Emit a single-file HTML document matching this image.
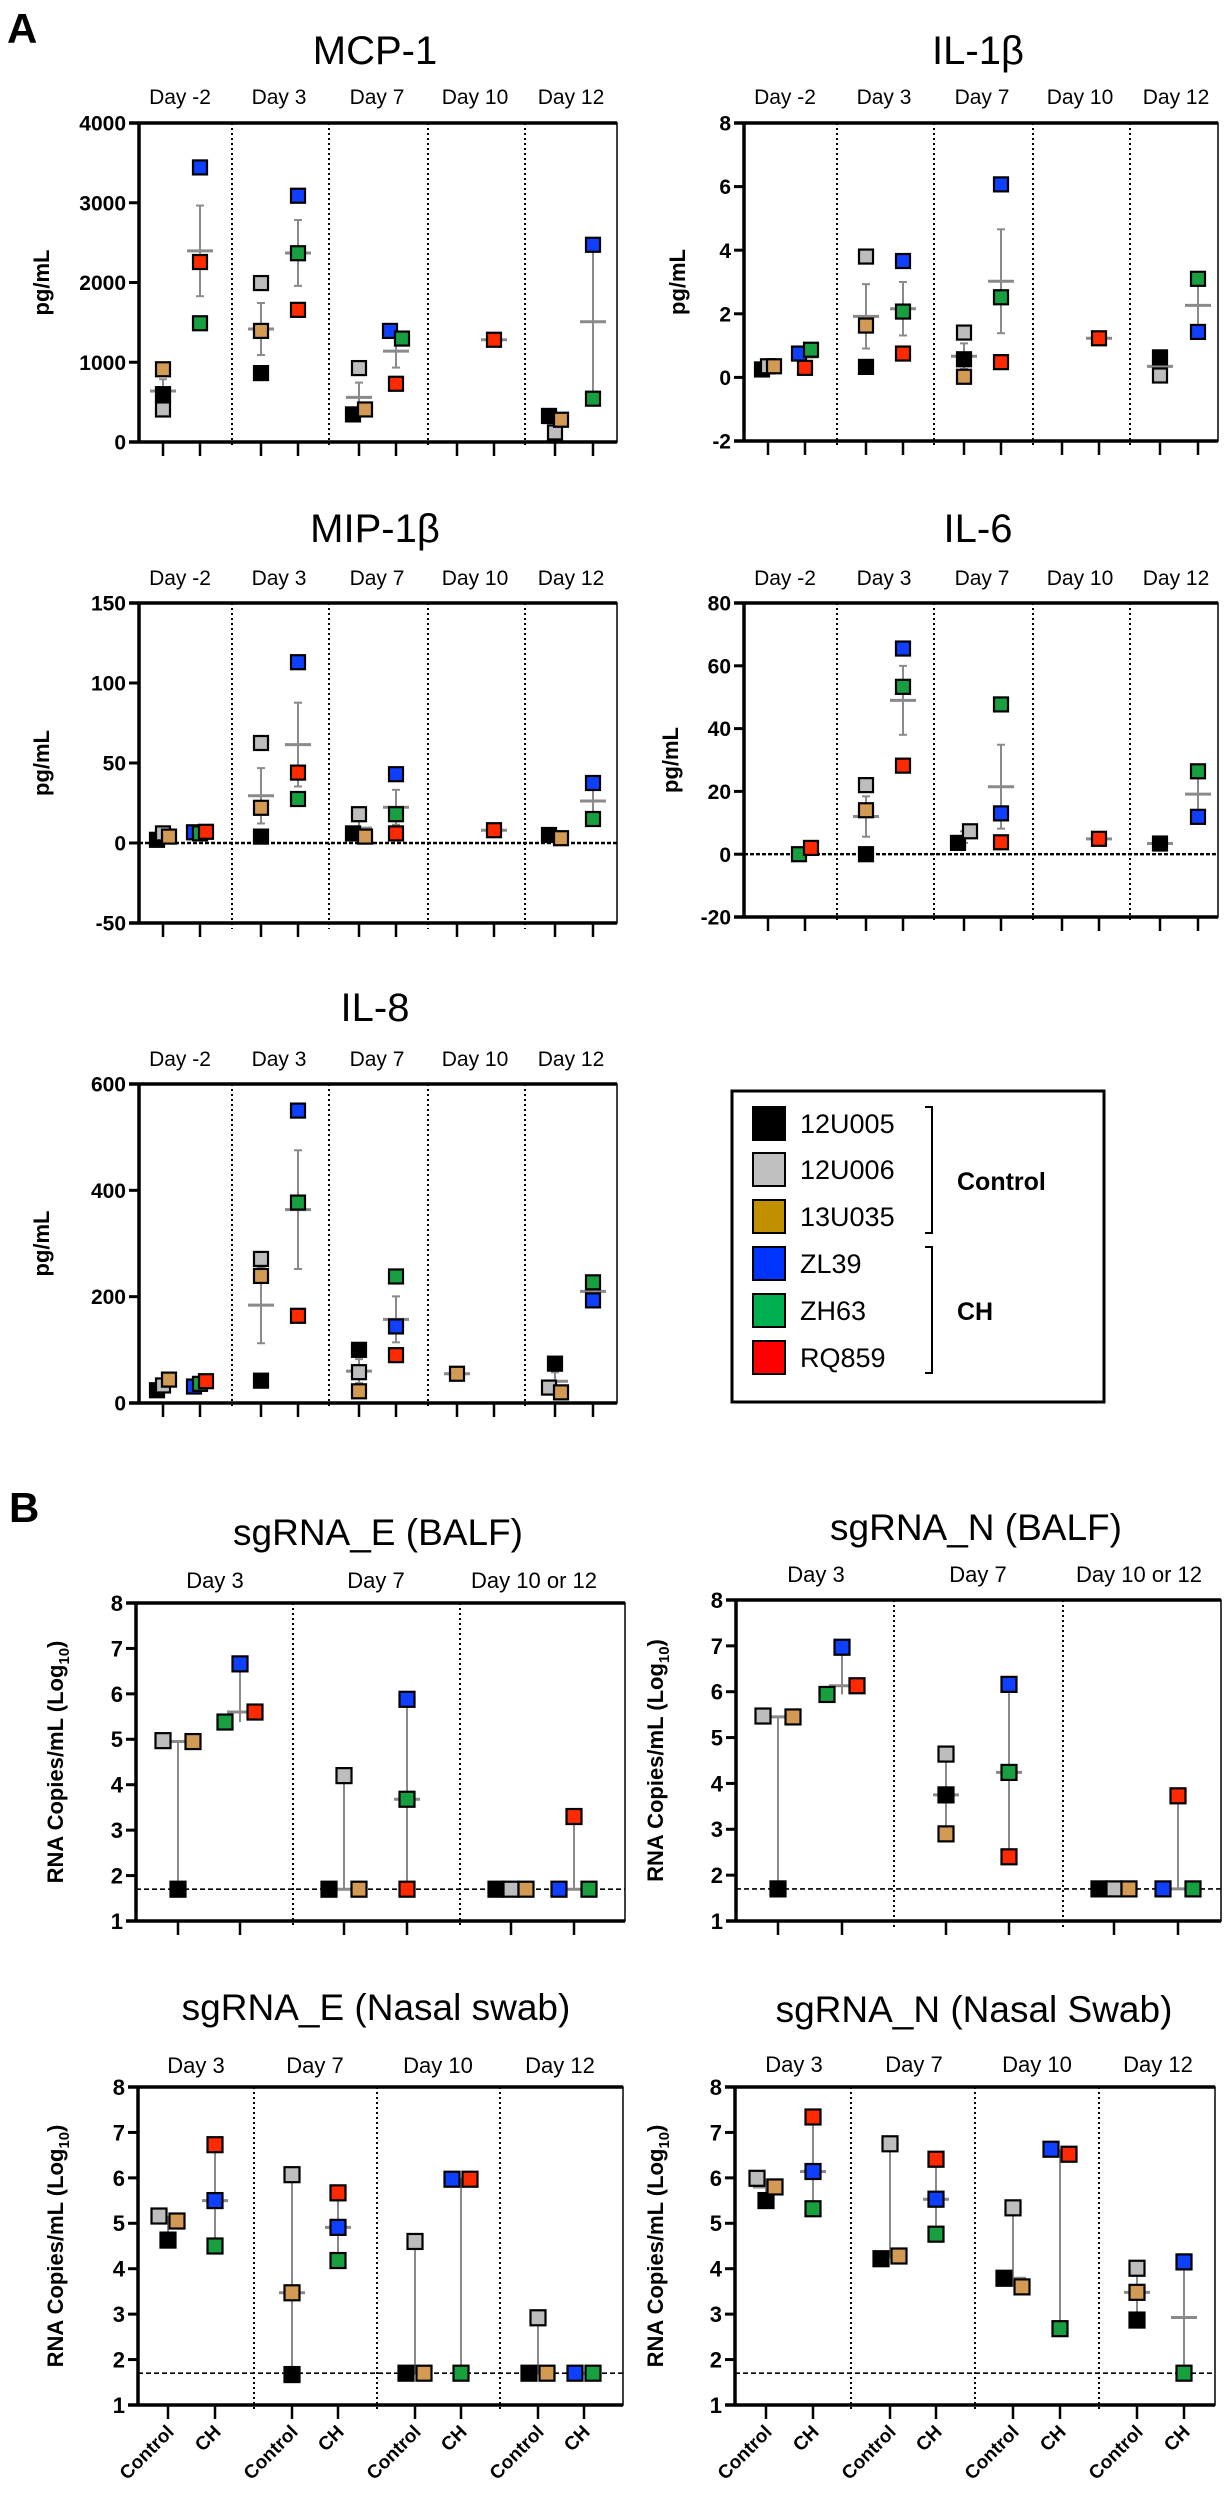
<!DOCTYPE html>
<html><head><meta charset="utf-8"><style>
html,body{margin:0;padding:0;background:#fff;}
svg{display:block;font-family:"Liberation Sans",Arial,sans-serif;}
</style></head><body>
<svg id="fig" xmlns="http://www.w3.org/2000/svg" width="1228" height="2500" viewBox="0 0 1228 2500">
<text x="7" y="43" font-size="42" font-weight="bold">A</text>
<text x="9" y="1522" font-size="42" font-weight="bold">B</text>
<g>
<rect x="732" y="1091" width="372" height="311" fill="none" stroke="#000" stroke-width="3"/>
<rect x="753" y="1107" width="32" height="33" fill="#000" stroke="#000" stroke-width="2"/>
<rect x="753" y="1153" width="32" height="33" fill="#c0c0c0" stroke="#000" stroke-width="2"/>
<rect x="753" y="1200" width="32" height="33" fill="#c09000" stroke="#000" stroke-width="2"/>
<rect x="753" y="1247" width="32" height="33" fill="#0033ff" stroke="#000" stroke-width="2"/>
<rect x="753" y="1294" width="32" height="33" fill="#00b050" stroke="#000" stroke-width="2"/>
<rect x="753" y="1341" width="32" height="33" fill="#ff0000" stroke="#000" stroke-width="2"/>
<g font-size="27">
<text x="800" y="1133">12U005</text>
<text x="800" y="1179">12U006</text>
<text x="800" y="1226">13U035</text>
<text x="800" y="1273">ZL39</text>
<text x="800" y="1320">ZH63</text>
<text x="800" y="1367">RQ859</text>
</g>
<path d="M925 1107 H932 V1233 H925" fill="none" stroke="#000" stroke-width="2"/>
<path d="M925 1247 H932 V1373 H925" fill="none" stroke="#000" stroke-width="2"/>
<text x="957" y="1190" font-size="25" font-weight="bold">Control</text>
<text x="957" y="1320" font-size="25" font-weight="bold">CH</text>
</g>
</svg>
<script>
// ---- data (subject order: 12U005, 12U006, 13U035, ZL39, ZH63, RQ859) ----
const subjects = ["12U005","12U006","13U035","ZL39","ZH63","RQ859"];
const cytoDays = ["Day -2","Day 3","Day 7","Day 10","Day 12"];
const balfDays = ["Day 3","Day 7","Day 10 or 12"];
const nasalDays = ["Day 3","Day 7","Day 10","Day 12"];
const groupLabels = ["Control","CH"];

const mcpBlack=[600,864,346,null,327], mcpGray=[408,1993,927,null,120], mcpGold=[912,1393,408,null,279];
const mcpBlue=[3443,3088,1393,null,2473], mcpGreen=[1489,2367,1297,null,543], mcpRed=[2257,1657,730,1282,null];
const mcpTicks=[0,1000,2000,3000,4000];

const il1bBlack=[0.25,0.33,0.57,null,0.63], il1bGray=[0.35,3.8,1.41,null,0.06], il1bGold=[0.35,1.63,0.02,null,null];
const il1bBlue=[0.75,3.66,6.07,null,1.43], il1bGreen=[0.87,2.07,2.52,null,3.1], il1bRed=[0.3,0.75,0.48,1.23,null];
const il1bTicks=[-2,0,2,4,6,8];

const mipBlack=[2,4,6,null,5], mipGray=[6,62.5,18,null,null], mipGold=[4,22,4,null,3];
const mipBlue=[6.7,113,43,null,37.5], mipGreen=[6,27.5,18,null,15], mipRed=[7,44,6,8,null];
const mipTicks=[-50,0,50,100,150];

const il6Black=[null,0,3.6,null,3.4], il6Gray=[null,22,7.3,null,null], il6Gold=[null,14,null,null,null];
const il6Blue=[null,65.5,13,null,11.9], il6Green=[0,53.3,47.7,null,26.4], il6Red=[2,28.2,3.8,4.9,null];
const il6Ticks=[-20,0,20,40,60,80];

const il8Black=[24,42,100,null,74], il8Gray=[33,271,58,null,29], il8Gold=[44,239,22,55,20];
const il8Blue=[31,550,144,null,193], il8Green=[36,377,238,null,227], il8Red=[41,164,90,null,null];
const il8Ticks=[0,200,400,600];

const ebBlack=[1.7,1.7,1.7], ebGray=[4.97,4.2,1.7], ebGold=[4.95,1.7,1.7];
const ebBlue=[6.66,5.88,1.7], ebGreen=[5.38,3.68,1.7], ebRed=[5.6,1.7,3.3];
const nbBlack=[1.7,3.75,1.7], nbGray=[5.47,4.64,1.7], nbGold=[5.45,2.9,1.7];
const nbBlue=[6.97,6.16,1.7], nbGreen=[5.94,4.24,1.7], nbRed=[6.13,2.4,3.73];
const enBlack=[4.63,1.67,1.7,1.7], enGray=[5.16,6.07,4.6,2.92], enGold=[5.05,3.47,1.7,1.7];
const enBlue=[5.5,4.91,5.97,1.7], enGreen=[4.5,4.18,1.7,1.7], enRed=[6.73,5.67,5.97,null];
const nnBlack=[5.5,4.22,3.79,2.87], nnGray=[5.99,6.75,5.34,4.01], nnGold=[5.8,4.28,3.6,3.48];
const nnBlue=[6.14,5.53,6.63,4.15], nnGreen=[5.32,4.76,2.68,1.7], nnRed=[7.34,6.41,6.52,null];
const logTicks=[1,2,3,4,5,6,7,8];
const lodValue=1.7;

const fillColors=["#000000","#bdbdbd","#d29a52","#1040ff","#18a040","#ff2a00"];
const NS="http://www.w3.org/2000/svg";
const svg=document.getElementById('fig');
function mk(tag,attrs,parent){const e=document.createElementNS(NS,tag);for(const k in attrs)e.setAttribute(k,attrs[k]);(parent||svg).appendChild(e);return e;}

function panel(cfg){
  const g=mk('g',{});
  
  
  const ymin=cfg.ticks[0], ymax=cfg.ticks[cfg.ticks.length-1];
  const y=v=>cfg.bottom-(v-ymin)/(ymax-ymin)*(cfg.bottom-cfg.top);
  // title
  const t=mk('text',{x:cfg.titleX,y:cfg.titleY,'font-size':cfg.titleSize,'text-anchor':'middle'},g);
  t.textContent=cfg.title;
  
  
  // day labels
  cfg.days.forEach((d,i)=>{
    const dl=mk('text',{x:cfg.dayX[i],y:cfg.dayY,'font-size':cfg.daySize,'text-anchor':'middle'},g);
    dl.textContent=d;
    
    
  });
  // frame
  const fr=mk('rect',{x:cfg.left,y:cfg.top,width:cfg.right-cfg.left,height:cfg.bottom-cfg.top,fill:'none',stroke:'#000','stroke-width':1.5},g);
  
  
  const ax=mk('path',{d:`M${cfg.left-10} ${cfg.top} H${cfg.right} M${cfg.left} ${cfg.top} V${cfg.bottom} M${cfg.left-10} ${cfg.bottom} H${cfg.right}`,fill:'none',stroke:'#000','stroke-width':3.5},g);
  
  
  // y ticks
  cfg.ticks.forEach(v=>{
    mk('line',{x1:cfg.left-10,x2:cfg.left,y1:y(v),y2:y(v),stroke:'#000','stroke-width':3},g);
    const tl=mk('text',{x:cfg.left-13,y:y(v)+cfg.tickSize*0.36,'font-size':cfg.tickSize,'font-weight':'bold','text-anchor':'end'},g);
    tl.textContent=v;
    
    
  });
  // y label
  const yl=mk('text',{x:0,y:0,'font-size':cfg.ylabSize,'font-weight':'bold','text-anchor':'middle',transform:`translate(${cfg.ylabX},${(cfg.top+cfg.bottom)/2}) rotate(-90)`},g);
  if(cfg.log){yl.innerHTML='RNA Copies/mL (Log<tspan font-size="15" dy="6">10</tspan><tspan dy="-6">)</tspan>';}
  else yl.textContent='pg/mL';
  
  
  // dividers
  cfg.dividers.forEach(xd=>{
    const dv=mk('line',{x1:xd,x2:xd,y1:cfg.top,y2:cfg.bottom+6,stroke:'#000','stroke-width':2,'stroke-dasharray':'2 3'},g);
    
    
  });
  // reference dashed line
  if(cfg.refLine!==undefined){
    const rl=mk('line',{x1:cfg.left,x2:cfg.right,y1:y(cfg.refLine),y2:y(cfg.refLine),stroke:'#000','stroke-width':cfg.log?1.6:2.4,'stroke-dasharray':cfg.log?'5 3':'4 2'},g);
    
    
  }
  // x ticks and group labels
  cfg.xt.forEach((xx,i)=>{
    mk('line',{x1:xx,x2:xx,y1:cfg.bottom,y2:cfg.bottom+14,stroke:'#000','stroke-width':2.5},g);
    if(cfg.groupLabels){
      const gl=mk('text',{x:0,y:0,'font-size':19,'font-weight':'bold','text-anchor':'end',transform:`translate(${xx+7},${cfg.bottom+28}) rotate(-45)`},g);
      gl.textContent=groupLabels[i%2];
      
      
    }
  });
  // data
  const ctrl=[cfg.series[0],cfg.series[1],cfg.series[2]];
  const ch=[cfg.series[3],cfg.series[4],cfg.series[5]];
  cfg.days.forEach((d,di)=>{
    [ctrl,ch].forEach((grp,gi)=>{
      const xx=cfg.xt[di*2+gi];
      const pts=[];
      grp.forEach((s,si)=>{const v=s[di];if(v!==null&&v!==undefined)pts.push({v,si:gi*3+si});});
      if(!pts.length)return;
      const vals=pts.map(p=>p.v);
      let c,lo,hi;
      if(cfg.log){
        const s=[...vals].sort((a,b)=>a-b);const n=s.length;
        c=n%2?s[(n-1)/2]:(s[n/2-1]+s[n/2])/2;lo=s[0];hi=s[n-1];
      }else{
        const n=vals.length;c=vals.reduce((a,b)=>a+b,0)/n;
        let sem=0;if(n>1){const sd=Math.sqrt(vals.reduce((a,b)=>a+(b-c)*(b-c),0)/(n-1));sem=sd/Math.sqrt(n);}
        lo=c-sem;hi=c+sem;
      }
      const sg=mk('g',{},g);
      
      
      mk('line',{x1:xx,x2:xx,y1:y(lo),y2:y(hi),stroke:'#8a8a8a','stroke-width':2},sg);
      mk('line',{x1:xx-13,x2:xx+13,y1:y(c),y2:y(c),stroke:'#8a8a8a','stroke-width':3},sg);
      if(!cfg.log){
        mk('line',{x1:xx-4,x2:xx+4,y1:y(lo),y2:y(lo),stroke:'#8a8a8a','stroke-width':2},sg);
        mk('line',{x1:xx-4,x2:xx+4,y1:y(hi),y2:y(hi),stroke:'#8a8a8a','stroke-width':2},sg);
      }
      // collision-based horizontal spread
      const used=new Array(pts.length).fill(false);
      pts.forEach((p,i)=>{p.dx=0;});
      for(let i=0;i<pts.length;i++){
        if(used[i])continue;
        const cl=[i];
        for(let j=i+1;j<pts.length;j++){if(!used[j]&&Math.abs(y(pts[j].v)-y(pts[i].v))<13)cl.push(j);}
        cl.forEach(k=>used[k]=true);
        const n=cl.length;
        cl.forEach((k,idx)=>{pts[k].dx=n===2?(idx===0?-cfg.sp:cfg.sp):(idx-(n-1)/2)*cfg.sp;});
      }
      pts.forEach(p=>{
        const m=cfg.ms;
        const r=mk('rect',{x:xx+p.dx-m/2,y:y(p.v)-m/2,width:m,height:m,fill:fillColors[p.si],stroke:'#000','stroke-width':2.2},g);
        
        
      });
    });
  });
}

function cytoX(left){return {
  dividers:[left+93,left+190,left+289,left+386],
  xt:[left+24,left+61,left+122,left+159,left+220,left+257,left+318,left+355,left+416,left+454],
  dayX:[left+41,left+140,left+238,left+336,left+432]};}

const cyto=[
 {name:'mcp-1',title:'MCP-1',left:139,right:617,top:123,bottom:442,titleY:64,dayY:104,ticks:mcpTicks,series:[mcpBlack,mcpGray,mcpGold,mcpBlue,mcpGreen,mcpRed],ylabX:49},
 {name:'il-1b',title:'IL-1β',left:744,right:1218,top:123,bottom:441,titleY:64,dayY:104,ticks:il1bTicks,series:[il1bBlack,il1bGray,il1bGold,il1bBlue,il1bGreen,il1bRed],ylabX:685},
 {name:'mip-1b',title:'MIP-1β',left:139,right:617,top:603,bottom:923,titleY:542,dayY:585,ticks:mipTicks,series:[mipBlack,mipGray,mipGold,mipBlue,mipGreen,mipRed],ylabX:49,refLine:0},
 {name:'il-6',title:'IL-6',left:744,right:1218,top:603,bottom:917,titleY:542,dayY:585,ticks:il6Ticks,series:[il6Black,il6Gray,il6Gold,il6Blue,il6Green,il6Red],ylabX:678,refLine:0},
 {name:'il-8',title:'IL-8',left:139,right:617,top:1084,bottom:1403,titleY:1021,dayY:1066,ticks:il8Ticks,series:[il8Black,il8Gray,il8Gold,il8Blue,il8Green,il8Red],ylabX:49}
];
cyto.forEach(c=>{
  const xs=cytoX(c.left);
  panel(Object.assign({days:cytoDays,titleX:(c.left+c.right)/2-3,titleSize:40,daySize:21,tickSize:21,ylabSize:22,ms:14,sp:6,log:false},xs,c));
});

panel({name:'sgrna-e-balf',title:'sgRNA_E (BALF)',left:136,right:625,top:1603,bottom:1921,titleX:378,titleY:1545,titleSize:37,
  days:balfDays,dayX:[215,376,534],dayY:1588,daySize:22,ticks:logTicks,tickSize:22,ylabSize:22,ylabX:63,
  dividers:[293,460],xt:[178,240,344,407,511,574],series:[ebBlack,ebGray,ebGold,ebBlue,ebGreen,ebRed],log:true,refLine:lodValue,ms:15,sp:15});
panel({name:'sgrna-n-balf',title:'sgRNA_N (BALF)',left:736,right:1221,top:1600,bottom:1921,titleX:976,titleY:1540,titleSize:37,
  days:balfDays,dayX:[816,978,1139],dayY:1582,daySize:22,ticks:logTicks,tickSize:22,ylabSize:22,ylabX:663,
  dividers:[894,1063],xt:[778,842,946,1009,1114,1178],series:[nbBlack,nbGray,nbGold,nbBlue,nbGreen,nbRed],log:true,refLine:lodValue,ms:15,sp:15});
panel({name:'sgrna-e-nasal',title:'sgRNA_E (Nasal swab)',left:138,right:623,top:2087,bottom:2405,titleX:376,titleY:2020,titleSize:37,
  days:nasalDays,dayX:[196,315,438,560],dayY:2073,daySize:22,ticks:logTicks,tickSize:22,ylabSize:22,ylabX:63,
  dividers:[254,377,500],xt:[168,215,292,338,415,461,538,584],series:[enBlack,enGray,enGold,enBlue,enGreen,enRed],log:true,refLine:lodValue,ms:15,sp:9,groupLabels:true});
panel({name:'sgrna-n-nasal',title:'sgRNA_N (Nasal Swab)',left:735,right:1215,top:2087,bottom:2405,titleX:974,titleY:2022,titleSize:37,
  days:nasalDays,dayX:[794,914,1037,1158],dayY:2072,daySize:22,ticks:logTicks,tickSize:22,ylabSize:22,ylabX:663,
  dividers:[851,975,1099],xt:[766,813,890,936,1013,1060,1137,1184],series:[nnBlack,nnGray,nnGold,nnBlue,nnGreen,nnRed],log:true,refLine:lodValue,ms:15,sp:9,groupLabels:true});
</script>
</body></html>
